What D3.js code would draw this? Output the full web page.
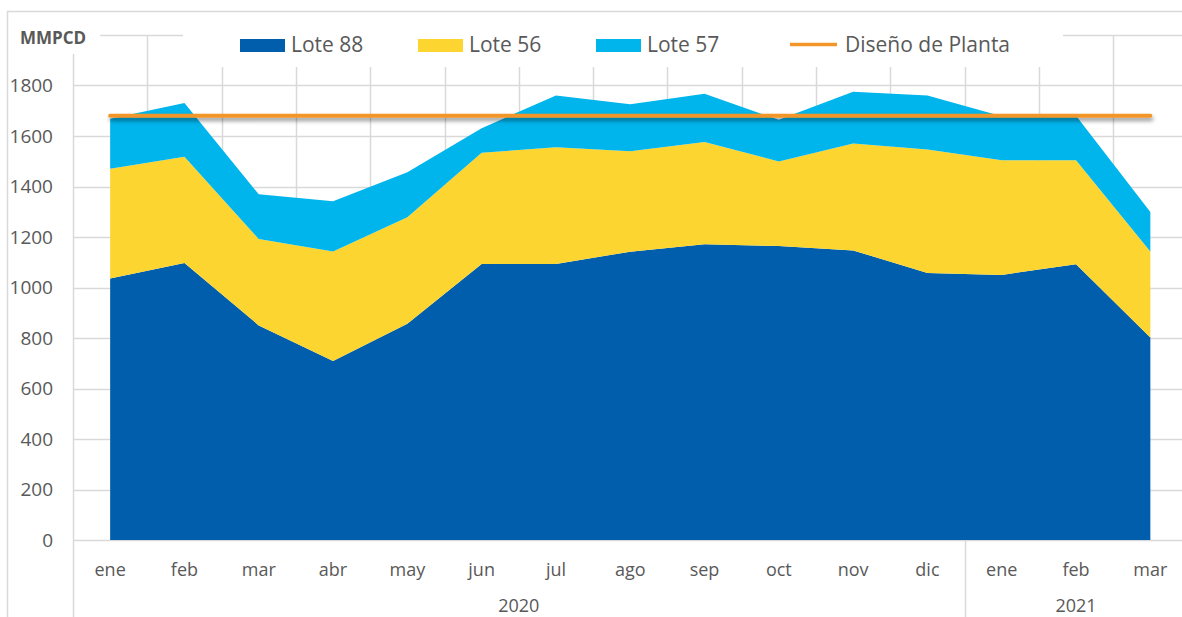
<!DOCTYPE html>
<html><head><meta charset="utf-8">
<script src="https://cdn.jsdelivr.net/npm/d3@7"></script>
<style>
html,body{margin:0;padding:0;background:#fff;}
svg{display:block;font-family:"Open Sans",sans-serif;}
</style></head>
<body><svg id="c" width="1182" height="617"></svg>
<script>
const months = ["ene","feb","mar","abr","may","jun","jul","ago","sep","oct","nov","dic","ene","feb","mar"];
const years  = ["2020","2020","2020","2020","2020","2020","2020","2020","2020","2020","2020","2020","2021","2021","2021"];
const yearLabels = ["2020","2021"];
const lote88 = [1036,1097,850,709,856,1093,1093,1142,1171,1164,1147,1057,1050,1092,802];
const lote56 = [434,421,342,434,422,441,462,398,405,335,423,490,454,412,341];
const lote57 = [198,213,177,199,178,97,205,186,191,165,205,213,174,176,156];
const disenoPlanta = 1680;
const yTicks = [0,200,400,600,800,1000,1200,1400,1600,1800];
const gridTicks = [0,200,400,600,800,1000,1200,1400,1600,1800,2000];
const seriesNames = ["Lote 88","Lote 56","Lote 57"];
const colors = {"Lote 88":"#005EAC","Lote 56":"#FDD530","Lote 57":"#00B5EC","Diseño de Planta":"#F2962A"};
const textColor = "#595959";
const gridColor = "#D9D9D9";

(function(){
const svg = d3.select("#c");
const W = 1182, H = 617;
const pLeft = 73, step = 74.3, pTop = 35, pBottom = 540;
const keys = months.map((m,i)=>i);
const pRight = pLeft + step*keys.length;
const x = d3.scaleBand().domain(keys).range([pLeft, pRight]).paddingInner(0).paddingOuter(0);
const cx = i => x(i) + x.bandwidth()/2;
const y = d3.scaleLinear().domain([0,2000]).range([pBottom, pTop]);

const defs = svg.append("defs");
const f = defs.append("filter").attr("id","shadow").attr("filterUnits","userSpaceOnUse")
  .attr("x",0).attr("y",0).attr("width",W).attr("height",H);
f.append("feDropShadow").attr("dx",1).attr("dy",3).attr("stdDeviation",2).attr("flood-color","#000").attr("flood-opacity",0.45);

svg.append("rect").attr("width",W).attr("height",H).attr("fill","#fff");

// outer frame
svg.append("path").attr("d",`M7.5,${H}V11.5H${W}`).attr("fill","none").attr("stroke",gridColor).attr("stroke-width",1.5);

// gridlines
const grid = svg.append("g");
grid.selectAll("line.h").data(gridTicks).join("line")
  .attr("x1",pLeft).attr("x2",pRight)
  .attr("y1",d=>Math.round(y(d))+0.5).attr("y2",d=>Math.round(y(d))+0.5)
  .attr("stroke",gridColor).attr("stroke-width",1.5);
const bounds = keys.map(k=>x(k)).concat([pRight]);
grid.selectAll("line.v").data(bounds).join("line")
  .attr("x1",d=>Math.round(d)+0.5).attr("x2",d=>Math.round(d)+0.5)
  .attr("y1",pTop).attr("y2",pBottom)
  .attr("stroke",gridColor).attr("stroke-width",1.5);

// stacked areas
const table = keys.map(i=>({i, "Lote 88":lote88[i], "Lote 56":lote56[i], "Lote 57":lote57[i]}));
const stacked = d3.stack().keys(seriesNames)(table);
const area = d3.area().x(d=>cx(d.data.i)).y0(d=>y(d[0])).y1(d=>y(d[1]));
svg.append("g").selectAll("path").data(stacked).join("path")
  .attr("d",area).attr("fill",d=>colors[d.key]);

// design line
const designData = keys.map(i=>({i, v:disenoPlanta}));
svg.append("path").datum(designData)
  .attr("d",d3.line().x(d=>cx(d.i)).y(d=>y(d.v)))
  .attr("fill","none")
  .attr("stroke",colors["Diseño de Planta"]).attr("stroke-width",4).attr("stroke-linecap","round")
  .attr("filter","url(#shadow)");

// y axis labels
svg.append("g").selectAll("text").data(yTicks).join("text")
  .attr("x",53).attr("y",d=>y(d)).attr("dy","0.36em")
  .attr("text-anchor","end").attr("font-size",19).attr("fill",textColor)
  .text(d=>d);

// x axis: below-axis separators
const yearGroups = yearLabels.map(yl=>{
  const idx = keys.filter(i=>years[i]===yl);
  return {yl, start:x(idx[0]), end:x(idx[idx.length-1])+x.bandwidth()};
});
svg.append("g").selectAll("line").data(yearGroups.map(g=>g.start)).join("line")
  .attr("x1",d=>Math.round(d)+0.5).attr("x2",d=>Math.round(d)+0.5)
  .attr("y1",pBottom).attr("y2",H)
  .attr("stroke",gridColor).attr("stroke-width",1.5);

svg.append("g").selectAll("text").data(keys).join("text")
  .attr("x",i=>cx(i)).attr("y",576)
  .attr("text-anchor","middle").attr("font-size",18).attr("fill",textColor)
  .text(i=>months[i]);
svg.append("g").selectAll("text").data(yearGroups).join("text")
  .attr("x",g=>(g.start+g.end)/2).attr("y",612)
  .attr("text-anchor","middle").attr("font-size",18).attr("fill",textColor)
  .text(g=>g.yl);

// MMPCD label with background
svg.append("rect").attr("x",9).attr("y",13).attr("width",91).attr("height",41).attr("fill","#fff");
svg.append("text").attr("x",20).attr("y",44).attr("font-size",17).attr("font-weight","bold")
  .attr("fill",textColor).text("MMPCD");

// legend
svg.append("rect").attr("x",183).attr("y",13).attr("width",880).attr("height",54).attr("fill","#fff");
const legendItems = [
  {name:"Lote 88", x:240, type:"rect"},
  {name:"Lote 56", x:418, type:"rect"},
  {name:"Lote 57", x:596, type:"rect"},
  {name:"Diseño de Planta", x:790, type:"line"}
];
const lg = svg.append("g").selectAll("g").data(legendItems).join("g");
lg.filter(d=>d.type==="rect").append("rect")
  .attr("x",d=>d.x).attr("y",39).attr("width",45).attr("height",13).attr("fill",d=>colors[d.name]);
lg.filter(d=>d.type==="line").append("line")
  .attr("x1",d=>d.x).attr("x2",d=>d.x+47).attr("y1",44.5).attr("y2",44.5)
  .attr("stroke",d=>colors[d.name]).attr("stroke-width",3.5);
lg.append("text").attr("x",d=>d.type==="rect"? d.x+51 : d.x+55).attr("y",52)
  .attr("font-size",21).attr("fill",textColor).text(d=>d.name);
})();
</script></body></html>
